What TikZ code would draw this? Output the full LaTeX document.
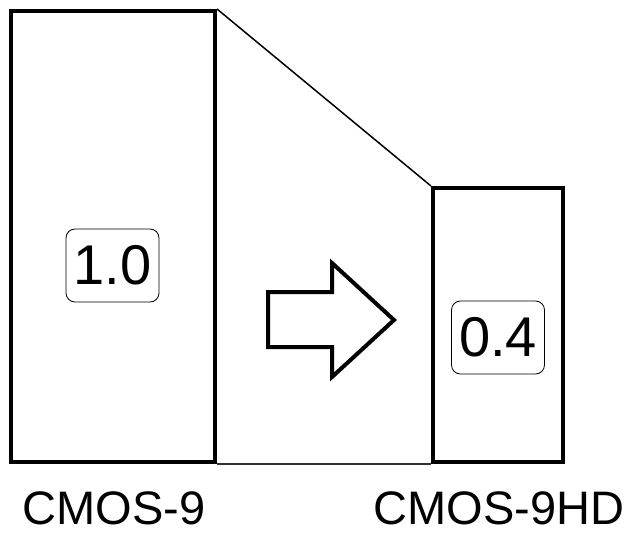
\documentclass[tikz,border=0pt]{standalone}
\usepackage{fontspec}
\setmainfont{Liberation Sans}
\usepackage{tikz}

\tikzset{
	chip/.style = {draw, line width=4pt, inner sep=0pt},
	ratio/.style = {draw, line width=0.8pt, rounded corners=9pt, inner sep=0pt,
		minimum width=93pt, minimum height=73pt, font=\fontsize{56}{60}\selectfont},
	process/.style = {font=\fontsize{47}{50}\selectfont, anchor=base, inner sep=0pt, text depth=0pt}
}

\begin{document}
\begin{tikzpicture}[x=1pt, y=-1pt]
		\useasboundingbox (0, 0) rectangle (633, 535);
		\node (old) [chip, minimum width=204pt, minimum height=451pt] at (113, 236.5) {};
		\node (new) [chip, minimum width=130pt, minimum height=274pt] at (498, 325) {};
		\draw [line width=1.5pt] (old.north east) -- (new.north west);
		\draw [line width=1.5pt, black!80] (old.south east) -- (new.south west);
		\node (oldval) [ratio] at (112.5, 265.5) {1.0};
		\node (newval) [ratio] at (498, 337.5) {0.4};
		\draw [line width=4pt, miter limit=10] (268, 292) -- (332, 292) -- (332, 263) -- (394, 320)
			-- (332, 377) -- (332, 347) -- (268, 347) -- cycle;
		\node (oldname) [process] at (114, 524) {CMOS-9};
		\node (newname) [process] at (499, 524) {CMOS-9HD};
	\end{tikzpicture}
\end{document}
